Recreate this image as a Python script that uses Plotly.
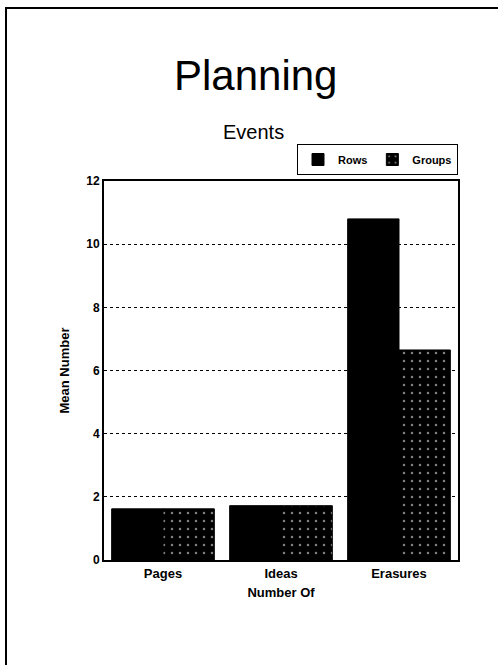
import plotly.graph_objects as go

categories = ["Pages", "Ideas", "Erasures"]
rows_values = [1.62, 1.72, 10.8]
groups_values = [1.62, 1.72, 6.65]
y_ticks = [0, 2, 4, 6, 8, 10, 12]

FONT = "Liberation Sans, Arial, sans-serif"

fig = go.Figure()
fig.add_trace(go.Bar(
    x=categories, y=rows_values, name="Rows",
    marker=dict(color="black", line=dict(color="black", width=1)),
))
fig.add_trace(go.Bar(
    x=categories, y=groups_values, name="Groups",
    marker=dict(color="black", line=dict(color="black", width=1),
                pattern=dict(shape=".", fgcolor="white", bgcolor="black",
                             size=8, solidity=0.08)),
))

L, R, T, B = 104, 40, 181, 105
W, H = 498, 665
pw, ph = W - L - R, H - T - B

def px(x):
    return (x - L) / pw

def py(y):
    return (H - B - y) / ph

fig.update_layout(
    width=W, height=H,
    margin=dict(l=L, r=R, t=T, b=B, pad=0),
    paper_bgcolor="white", plot_bgcolor="white",
    barmode="group", bargap=0.13, bargroupgap=0,
    font=dict(family=FONT, color="black"),
    showlegend=True,
    legend=dict(
        orientation="h", x=1, xanchor="right", y=py(175), yanchor="bottom",
        bordercolor="black", borderwidth=1, bgcolor="white",
        font=dict(size=11, family=FONT, weight="bold"),
        itemwidth=30, tracegroupgap=0,
    ),
    xaxis=dict(
        title=dict(text="Number Of", font=dict(size=13, weight="bold"), standoff=8),
        tickfont=dict(size=13, weight="bold"),
        showline=True, linecolor="black", linewidth=2, mirror=True,
        ticks="", showgrid=False,
    ),
    yaxis=dict(
        title=dict(text="Mean Number", font=dict(size=13, weight="bold"), standoff=14),
        range=[0, 12], tickvals=y_ticks,
        tickfont=dict(size=12, weight="bold"),
        showline=True, linecolor="black", linewidth=2, mirror=True,
        ticks="", showgrid=True, gridcolor="black", gridwidth=1, griddash="dot",
        zeroline=False,
    ),
    annotations=[
        dict(text="Planning", x=px(255), y=py(76), xref="paper", yref="paper",
             showarrow=False, font=dict(size=42, family=FONT), xanchor="center", yanchor="middle"),
        dict(text="Events", x=px(253), y=py(132), xref="paper", yref="paper",
             showarrow=False, font=dict(size=20, family=FONT), xanchor="center", yanchor="middle"),
    ],
    shapes=[
        dict(type="line", xref="paper", yref="paper", x0=px(5), x1=px(498), y0=py(8), y1=py(8),
             line=dict(color="black", width=2)),
        dict(type="line", xref="paper", yref="paper", x0=px(6), x1=px(6), y0=py(8), y1=py(665),
             line=dict(color="black", width=2)),
    ],
)

fig.write_html("out.html", config={"displayModeBar": False},
               post_script="document.body.style.margin='0';")
